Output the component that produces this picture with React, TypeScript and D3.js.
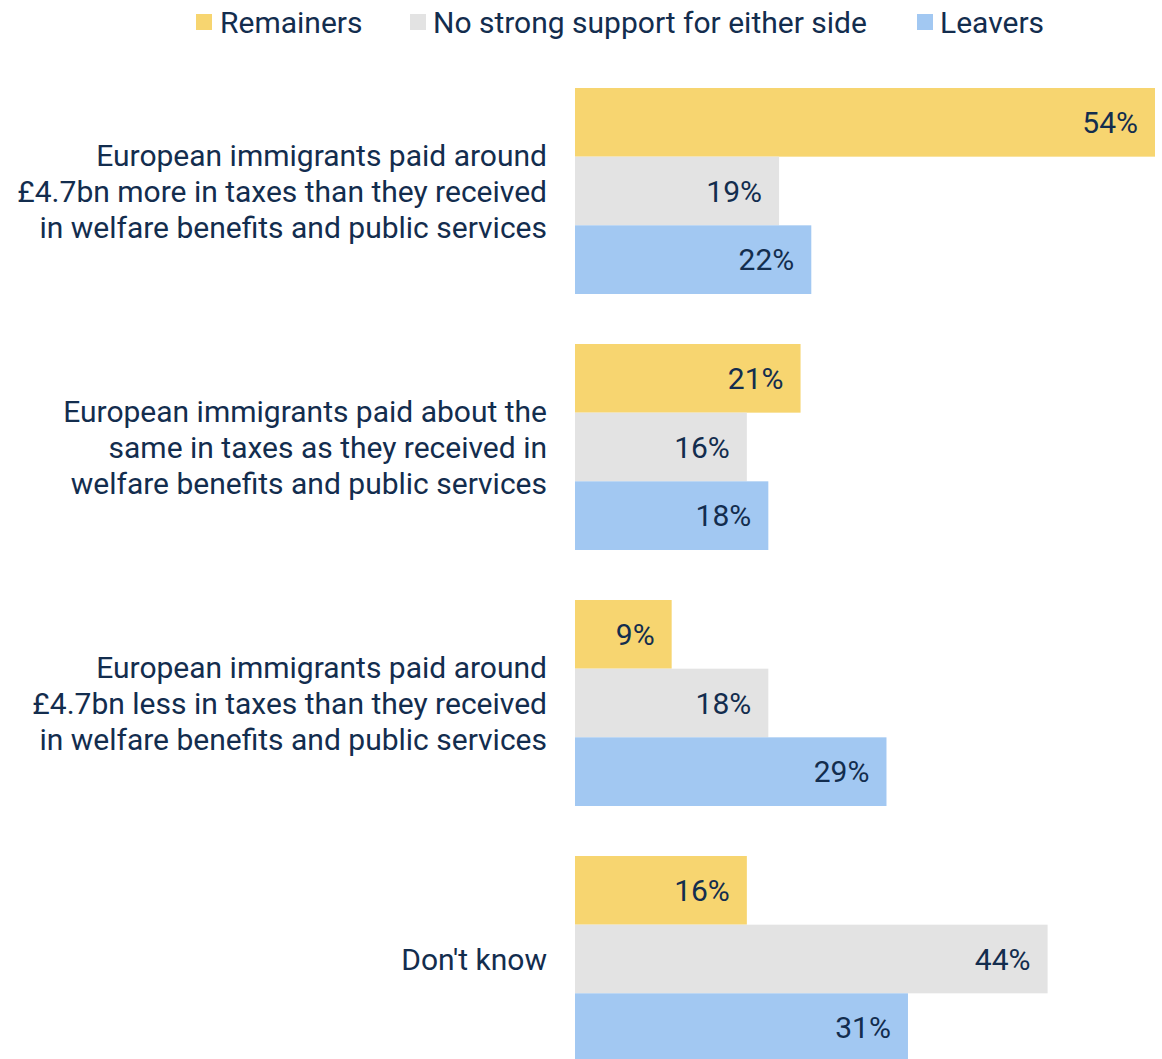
import React from "react";
import * as d3 from "d3";

const categories = [
  ["European immigrants paid around", "£4.7bn more in taxes than they received", "in welfare benefits and public services"],
  ["European immigrants paid about the", "same in taxes as they received in", "welfare benefits and public services"],
  ["European immigrants paid around", "£4.7bn less in taxes than they received", "in welfare benefits and public services"],
  ["Don't know"],
];
const seriesNames = ["Remainers", "No strong support for either side", "Leavers"];
const remainers = [54, 21, 9, 16];
const noStrong = [19, 16, 18, 44];
const leavers = [22, 18, 29, 31];
const seriesColors = ["#F7D570", "#E3E3E3", "#A2C8F2"];

const W = 1162;
const H = 1059;
const TEXT = "#132D4E";
const FONT = "Roboto, 'Noto Sans', sans-serif";

export default function App() {
  const values = [remainers, noStrong, leavers];
  const catIdx = categories.map((_, i) => String(i));
  const y0 = d3.scaleBand<string>().domain(catIdx).range([88, 88 + 3 * 256 + 206]).paddingInner(50 / 256).paddingOuter(0);
  const y1 = d3.scaleBand<string>().domain(seriesNames).range([0, y0.bandwidth()]).padding(0);
  const x = d3.scaleLinear().domain([0, 54]).range([575, 1155]);

  const legendItems = [
    { name: seriesNames[0], sx: 196, tx: 220 },
    { name: seriesNames[1], sx: 410, tx: 433 },
    { name: seriesNames[2], sx: 917, tx: 940 },
  ];

  return (
    <svg width={W} height={H} style={{ position: "absolute", left: 0, top: 0, background: "#fff" }} fontFamily={FONT}>
      {legendItems.map((it, i) => (
        <g key={it.name}>
          <rect x={it.sx} y={14} width={16} height={16} fill={seriesColors[i]} />
          <text x={it.tx} y={33} fontSize={30} fill={TEXT}>{it.name}</text>
        </g>
      ))}
      {categories.map((lines, ci) => {
        const gy = y0(String(ci))!;
        const cy = gy + y0.bandwidth() / 2;
        const lh = 36;
        const startY = cy - ((lines.length - 1) * lh) / 2;
        return (
          <g key={ci}>
            {lines.map((ln, li) => (
              <text key={li} x={547} y={startY + li * lh} dy="0.35em" textAnchor="end" fontSize={30} fill={TEXT}>
                {ln}
              </text>
            ))}
            {seriesNames.map((s, si) => {
              const v = values[si][ci];
              const by = gy + y1(s)!;
              return (
                <g key={s}>
                  <rect x={x(0)} y={by} width={x(v) - x(0)} height={y1.bandwidth()} fill={seriesColors[si]} />
                  <text x={x(v) - 17} y={by + y1.bandwidth() / 2} dy="0.36em" textAnchor="end" fontSize={30} fill={TEXT}>
                    {v}%
                  </text>
                </g>
              );
            })}
          </g>
        );
      })}
    </svg>
  );
}
